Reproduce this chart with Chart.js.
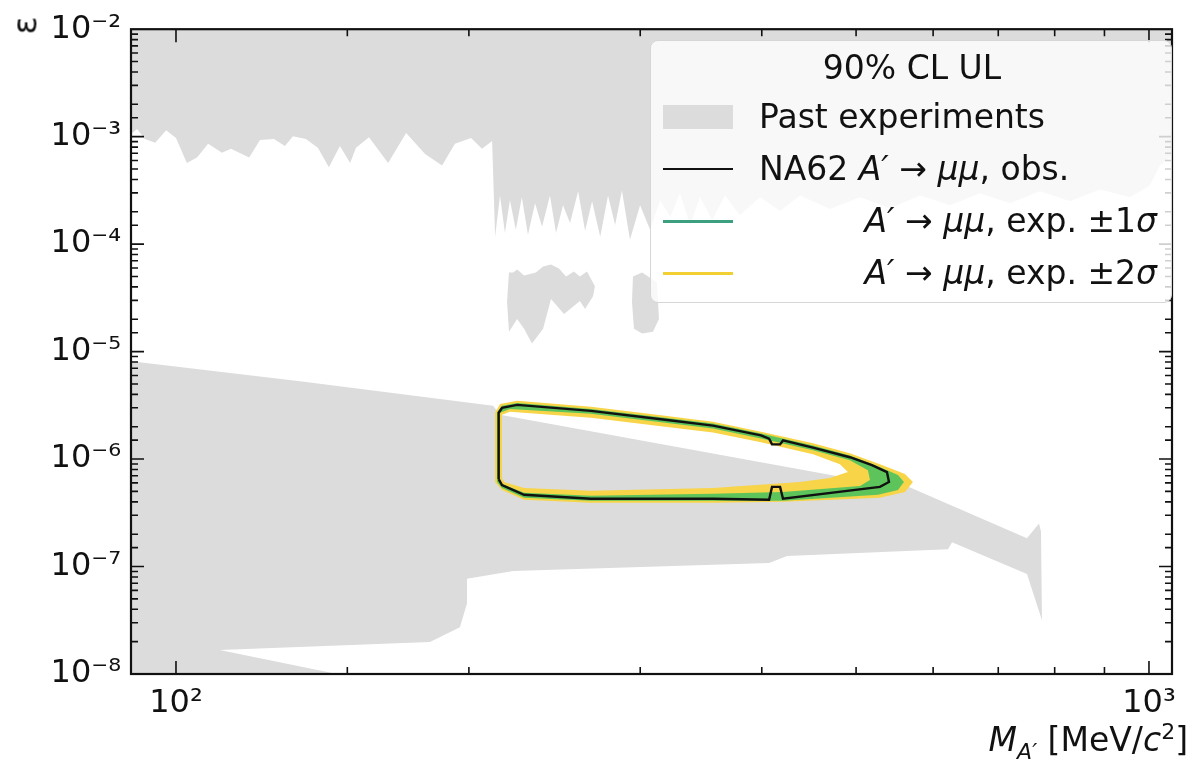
<!DOCTYPE html>
<html>
<head>
<meta charset="UTF-8">
<script src="https://cdn.jsdelivr.net/npm/chart.js@4.4.1/dist/chart.umd.min.js"></script>
<style>
*{margin:0;padding:0;box-sizing:border-box}
body{width:1200px;height:768px;background:#fff;font-family:"DejaVu Sans",sans-serif;color:#111;position:relative;overflow:hidden}
#wrap{position:absolute;left:0;top:0;width:1200px;height:768px}
.lbl{position:absolute;font-size:33px;white-space:nowrap}
#ytitle{left:16px;top:6px;transform:rotate(-90deg);transform-origin:center}
#xtitle{right:12px;top:720px}
#legend{position:absolute;left:650px;top:40px;width:522px;height:263px;background:rgba(255,255,255,0.8);border:1px solid #d6d6d6;border-radius:8px}
#legend .t{position:absolute;font-size:33px;white-space:nowrap}
#legend .sw{position:absolute;left:12px;width:70px}
sub,sup{font-size:22px;line-height:0}
</style>
</head>
<body>
<div id="wrap"><canvas id="c" width="1200" height="768"></canvas></div>
<div id="ytitle" class="lbl">ε</div>
<div id="xtitle" class="lbl"><i>M</i><sub><i>A′</i></sub> [MeV/<i>c</i><sup>2</sup>]</div>
<div id="legend">
  <div class="t" style="left:0;width:522px;text-align:center;top:7px">90% CL UL</div>
  <div class="sw" style="top:64px;height:24px;background:#dcdcdc"></div>
  <div class="t" style="left:108px;top:56px">Past experiments</div>
  <div class="sw" style="top:127px;height:2px;background:#111"></div>
  <div class="t" style="left:108px;top:108px">NA62 <i>A′</i> → <i>μμ</i>, obs.</div>
  <div class="sw" style="top:179px;height:3px;background:#3c9f80"></div>
  <div class="t" style="right:14px;top:160px"><i>A′</i> → <i>μμ</i>, exp. ±1<i>σ</i></div>
  <div class="sw" style="top:231px;height:3px;background:#f2d034"></div>
  <div class="t" style="right:14px;top:212px"><i>A′</i> → <i>μμ</i>, exp. ±2<i>σ</i></div>
</div>
<script>
// axis ranges
const xMin=89.9, xMax=1056, yMin=1e-8, yMax=1e-2;

// past experiments: upper region (lower edge, filled up to the top)
const upperMass=[85,89.9,91.2,92.9,95.2,97.7,100,102.6,105.1,107.9,111.5,113.9,118.9,122,126.1,129.4,131.9,136,139.9,143.6,147.4,151,153.1,157.9,165.2,172.4,180.3,187.7,193.5,201,206.3,211.3,
  212.8,215.3,217.8,220.4,223.5,226.7,230,233.9,237.8,242.3,245.8,249.9,254.1,259,263.3,267.7,272.9,278,282.7,287.3,292.8,299.9,307.1,314.5,322.1,329.6,337.6,345.6,355.6,366.7,379.8,398.3,417.7,437.8,469.9,504.7,541.9,581.9,624.6,670.6,719.6,772.7,829.6,890.5,956.1,1002,1026,1056,1100];
const upperEps=[1.06e-3,1.06e-3,1.18e-3,9.5e-4,8.8e-4,1.15e-3,9.7e-4,5.7e-4,6.4e-4,8.6e-4,7.1e-4,7.7e-4,6.4e-4,9.3e-4,9.5e-4,8.2e-4,1.01e-3,9.5e-4,7.9e-4,5.2e-4,8.2e-4,5.7e-4,7.9e-4,9.9e-4,5.7e-4,1.08e-3,6.9e-4,5.4e-4,8.6e-4,9.7e-4,7.7e-4,9.1e-4,
  1.17e-4,2.84e-4,1.27e-4,2.56e-4,1.36e-4,2.73e-4,1.22e-4,2.40e-4,1.45e-4,2.84e-4,1.27e-4,2.30e-4,1.57e-4,3.10e-4,1.33e-4,2.51e-4,1.17e-4,2.84e-4,1.51e-4,3.16e-4,1.10e-4,2.30e-4,1.36e-4,2.56e-4,1.79e-4,2.97e-4,1.51e-4,2.73e-4,1.68e-4,2.84e-4,1.86e-4,2.73e-4,2.03e-4,2.84e-4,2.12e-4,2.73e-4,2.16e-4,2.84e-4,2.30e-4,2.97e-4,2.40e-4,3.10e-4,2.51e-4,3.23e-4,2.73e-4,3.52e-4,5.37e-4,6.64e-4,6.64e-4];

// past experiments: small islands near 2-3e-5
const blob1Mass=[219.9,222.1,224.2,227.9,234.4,238.4,242.9,247.5,251.7,256.4,260.1,264.5,269.5,268.3,263.3,260.1,250.5,242.9,238.4,232.2,227.9,224.2,219.9,218.9];
const blob1Eps=[5.46e-5,5.46e-5,5.81e-5,5.12e-5,5.46e-5,6.19e-5,6.46e-5,5.94e-5,5.01e-5,5.57e-5,5.01e-5,5.57e-5,4.06e-5,3.28e-5,2.49e-5,2.95e-5,2.24e-5,3.08e-5,1.63e-5,1.19e-5,1.63e-5,2.01e-5,1.53e-5,2.89e-5];
const blob2Mass=[294.9,301.3,312.1,313.6,309.2,301.3,295.6,294.2];
const blob2Eps=[5.01e-5,5.46e-5,4.42e-5,2.01e-5,1.53e-5,1.47e-5,1.63e-5,2.89e-5];

// past experiments: lower band (beam dump / SN region)
const lowerMass=[85,134.1,211.8,215.3,471.1,516.8,566.7,749.2,770.9,774.5,776.3,749.2,627.5,621.6,424.6,406.9,222.1,199.1,199.1,195.8,182.4,110.9,146.4,85];
const lowerEps=[8.65e-6,5.31e-6,3.13e-6,2.58e-6,7.10e-7,6.12e-7,5.51e-7,1.83e-7,2.51e-7,2.12e-7,3.16e-8,8.53e-8,1.68e-7,1.45e-7,1.25e-7,1.08e-7,9.09e-8,7.68e-8,4.52e-8,2.72e-8,1.98e-8,1.67e-8,1e-8,1e-8];

// NA62 expected +-2 sigma band (outer / inner contour)
const y2OutMass=[212.8,212.8,215.3,224.2,267.0,318.2,356.4,399.2,451.6,492.7,529.0,561.3,572.0,561.3,529.0,420.6,356.4,267.0,227.9,216.3];
const y2OutEps=[6.12e-7,2.70e-6,3.26e-6,3.48e-6,3.06e-6,2.53e-6,2.23e-6,1.80e-6,1.40e-6,1.13e-6,8.96e-7,7.25e-7,6.12e-7,4.95e-7,4.36e-7,4.01e-7,3.92e-7,3.92e-7,4.18e-7,5.16e-7];
const y2InMass=[216.3,216.3,220.4,267.0,318.2,356.4,399.2,451.6,481.2,490.4,469.9,437.8,356.4,267.0,227.9,217.4];
const y2InEps=[6.65e-7,2.58e-6,2.75e-6,2.43e-6,2.00e-6,1.77e-6,1.43e-6,1.11e-6,8.96e-7,7.57e-7,6.65e-7,6.12e-7,5.38e-7,5.06e-7,5.38e-7,6.12e-7];

// NA62 expected +-1 sigma band
const g1OutMass=[213.8,213.8,216.3,224.2,267.0,318.2,356.4,399.2,451.6,492.7,526.6,552.1,560.0,552.1,526.6,420.6,356.4,267.0,227.9,216.3];
const g1OutEps=[6.12e-7,2.70e-6,3.13e-6,3.33e-6,2.93e-6,2.43e-6,2.14e-6,1.73e-6,1.34e-6,1.08e-6,8.59e-7,7.10e-7,6.12e-7,5.16e-7,4.65e-7,4.09e-7,4.09e-7,4.09e-7,4.36e-7,5.38e-7];
const g1InMass=[215.3,215.3,220.4,267.0,318.2,356.4,399.2,451.6,492.7,514.2,516.7,504.7,420.6,356.4,267.0,227.9,216.3];
const g1InEps=[6.38e-7,2.70e-6,2.93e-6,2.64e-6,2.18e-6,1.92e-6,1.55e-6,1.21e-6,9.76e-7,7.89e-7,6.38e-7,5.62e-7,4.95e-7,4.75e-7,4.55e-7,4.85e-7,5.86e-7];

// NA62 observed limit contour
const obsMass=[214.6,214.6,216.3,224.2,267.0,318.2,356.4,399.2,407.0,409.8,417.7,420.6,451.6,492.7,519.1,537.9,540.5,529.0,420.6,417.7,409.8,407.0,356.4,267.0,227.9,216.3,214.6];
const obsEps=[6.51e-7,2.70e-6,2.99e-6,3.19e-6,2.81e-6,2.32e-6,2.05e-6,1.66e-6,1.55e-6,1.37e-6,1.37e-6,1.49e-6,1.28e-6,1.04e-6,8.77e-7,7.57e-7,6.12e-7,5.51e-7,4.27e-7,5.51e-7,5.51e-7,4.18e-7,4.27e-7,4.27e-7,4.65e-7,5.74e-7,6.51e-7];

const pts=(xs,ys)=>xs.map((x,i)=>({x,y:ys[i]}));
// outer loop, then inner loop traced backwards -> hole with nonzero fill
function ring(ox,oy,ix,iy){
  const o=pts(ox,oy), inn=pts(ix,iy);
  return [...o,o[0],inn[0],...inn.slice(1).reverse(),inn[0]];
}
const GRAY='#dcdcdc';
const shapeDs=(data,color,order)=>({data,fill:'shape',backgroundColor:color,borderWidth:0,pointRadius:0,tension:0,order});

const isPow10=v=>Math.abs(Math.log10(v)-Math.round(Math.log10(v)))<1e-6;
const SUP={'-':'⁻','0':'⁰','1':'¹','2':'²','3':'³','4':'⁴','5':'⁵','6':'⁶','7':'⁷','8':'⁸','9':'⁹'};
const powLabel=v=>'10'+String(Math.round(Math.log10(v))).split('').map(c=>SUP[c]).join('');

// frame + inward ticks on all four sides, like the original
const frameTicks={
  id:'frameTicks',
  afterDraw(chart){
    const {ctx,chartArea:a,scales:{x,y}}=chart;
    ctx.save();
    ctx.strokeStyle='#111';ctx.lineWidth=1.6;
    x.ticks.forEach(t=>{
      const px=x.getPixelForValue(t.value);if(px<a.left+1||px>a.right-1)return;
      const L=isPow10(t.value)?13:7;
      ctx.beginPath();ctx.moveTo(px,a.bottom);ctx.lineTo(px,a.bottom-L);ctx.moveTo(px,a.top);ctx.lineTo(px,a.top+L);ctx.stroke();
    });
    y.ticks.forEach(t=>{
      const py=y.getPixelForValue(t.value);if(py<a.top+1||py>a.bottom-1)return;
      const L=isPow10(t.value)?13:7;
      ctx.beginPath();ctx.moveTo(a.left,py);ctx.lineTo(a.left+L,py);ctx.moveTo(a.right,py);ctx.lineTo(a.right-L,py);ctx.stroke();
    });
    ctx.lineWidth=2.2;ctx.strokeRect(a.left,a.top,a.right-a.left,a.bottom-a.top);
    ctx.restore();
  }
};

new Chart(document.getElementById('c'),{
  type:'line',
  data:{datasets:[
    {data:pts(obsMass,obsEps),borderColor:'#111',borderWidth:2.4,pointRadius:0,tension:0,fill:false,order:1},
    shapeDs(ring(g1OutMass,g1OutEps,g1InMass,g1InEps),'#5cc45a',2),
    shapeDs(ring(y2OutMass,y2OutEps,y2InMass,y2InEps),'#f7d448',3),
    shapeDs(pts(lowerMass,lowerEps),GRAY,10),
    shapeDs(pts(blob1Mass,blob1Eps),GRAY,11),
    shapeDs(pts(blob2Mass,blob2Eps),GRAY,12),
    {data:pts(upperMass,upperEps),fill:'end',backgroundColor:GRAY,borderWidth:0,pointRadius:0,tension:0,order:13}
  ]},
  options:{
    responsive:false,animation:false,
    layout:{padding:{top:6,right:28,left:0,bottom:0}},
    plugins:{legend:{display:false},tooltip:{enabled:false}},
    scales:{
      x:{type:'logarithmic',min:xMin,max:xMax,
        grid:{display:false,drawTicks:false},border:{display:false},
        ticks:{autoSkip:false,maxRotation:0,padding:10,color:'#111',font:{family:'DejaVu Sans',size:32},
          callback:v=>isPow10(v)?powLabel(v):''},
        afterFit:s=>{s.height=94;}},
      y:{type:'logarithmic',min:yMin,max:yMax,
        grid:{display:false,drawTicks:false},border:{display:false},
        ticks:{autoSkip:false,padding:10,color:'#111',font:{family:'DejaVu Sans',size:32},
          callback:v=>isPow10(v)?powLabel(v):''},
        afterFit:s=>{s.width=131;}}
    }
  },
  plugins:[frameTicks]
});
</script>
</body>
</html>
